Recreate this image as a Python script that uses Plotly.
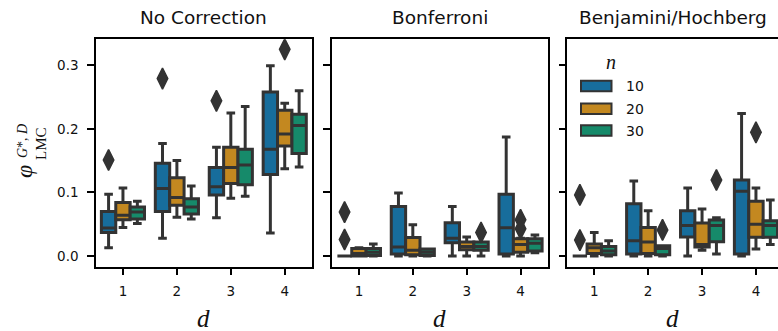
import plotly.graph_objects as go

# ---------------- data ----------------
panels = ["No Correction", "Bonferroni", "Benjamini/Hochberg"]
d_labels = ["1", "2", "3", "4"]
n_values = ["10", "20", "30"]
y_ticks = [0.0, 0.1, 0.2, 0.3]

# box statistics [panel][n] -> list over d
nc_lower = {"10": [0.013, 0.028, 0.060, 0.036], "20": [0.045, 0.061, 0.091, 0.137], "30": [0.051, 0.058, 0.094, 0.140]}
nc_q1 = {"10": [0.037, 0.070, 0.096, 0.128], "20": [0.057, 0.080, 0.114, 0.173], "30": [0.058, 0.066, 0.112, 0.161]}
nc_med = {"10": [0.044, 0.106, 0.109, 0.168], "20": [0.064, 0.092, 0.139, 0.192], "30": [0.069, 0.077, 0.143, 0.205]}
nc_q3 = {"10": [0.070, 0.146, 0.139, 0.258], "20": [0.084, 0.123, 0.171, 0.229], "30": [0.077, 0.090, 0.168, 0.223]}
nc_upper = {"10": [0.097, 0.177, 0.171, 0.299], "20": [0.107, 0.150, 0.225, 0.240], "30": [0.086, 0.110, 0.235, 0.260]}

bf_lower = {"10": [0.0, 0.0, 0.0, 0.0], "20": [0.0, 0.0, 0.0, 0.0], "30": [0.0, 0.0, 0.0, 0.005]}
bf_q1 = {"10": [0.0, 0.003, 0.021, 0.003], "20": [0.0, 0.002, 0.010, 0.006], "30": [0.001, 0.001, 0.009, 0.008]}
bf_med = {"10": [0.0, 0.014, 0.028, 0.0445], "20": [0.004, 0.009, 0.015, 0.018], "30": [0.006, 0.006, 0.015, 0.020]}
bf_q3 = {"10": [0.0, 0.078, 0.0524, 0.097], "20": [0.012, 0.029, 0.022, 0.027], "30": [0.012, 0.011, 0.022, 0.027]}
bf_upper = {"10": [0.0, 0.099, 0.078, 0.187], "20": [0.013, 0.049, 0.030, 0.028], "30": [0.019, 0.011, 0.022, 0.033]}

bh_lower = {"10": [0.0, 0.0, 0.0, 0.0], "20": [0.0, 0.0, 0.009, 0.011], "30": [0.0, 0.0, 0.003, 0.018]}
bh_q1 = {"10": [0.0, 0.003, 0.030, 0.003], "20": [0.004, 0.004, 0.014, 0.0294], "30": [0.002, 0.002, 0.0225, 0.0294]}
bh_med = {"10": [0.0, 0.024, 0.048, 0.102], "20": [0.013, 0.022, 0.018, 0.050], "30": [0.008, 0.012, 0.048, 0.048]}
bh_q3 = {"10": [0.0, 0.082, 0.0713, 0.1195], "20": [0.019, 0.045, 0.052, 0.086], "30": [0.015, 0.016, 0.0565, 0.0555]}
bh_upper = {"10": [0.0, 0.118, 0.107, 0.224], "20": [0.037, 0.071, 0.074, 0.107], "30": [0.024, 0.016, 0.060, 0.088]}

stats = [
    (nc_lower, nc_q1, nc_med, nc_q3, nc_upper),
    (bf_lower, bf_q1, bf_med, bf_q3, bf_upper),
    (bh_lower, bh_q1, bh_med, bh_q3, bh_upper),
]

# outliers: (panel index, d index, n, value)
outliers = [
    (0, 0, "10", 0.151), (0, 1, "10", 0.279), (0, 2, "10", 0.244), (0, 3, "20", 0.325),
    (1, 0, "10", 0.069), (1, 0, "10", 0.026), (1, 2, "30", 0.037), (1, 3, "20", 0.057), (1, 3, "20", 0.043),
    (2, 0, "10", 0.096), (2, 0, "10", 0.025), (2, 1, "30", 0.041), (2, 2, "30", 0.1195), (2, 3, "20", 0.1945),
]

# ---------------- style ----------------
colors = {"10": "#176d9c", "20": "#c38820", "30": "#168a6a"}
edge = "#333333"
W, H = 778, 331
font_fam = "DejaVu Sans"
group_width = 0.8
box_w = group_width / len(n_values)

x_domains = [[96 / W, 311.7 / W], [332 / W, 547.5 / W], [567.3 / W, 1.0]]
y_domain = [1 - 266.7 / H, 1 - 39.3 / H]
x_ranges = [[-0.5, 3.5], [-0.5, 3.5], [-0.5, 3.409]]
y_range = [-0.0168, 0.3407]

fig = go.Figure()

def offset(j):
    return (j - (len(n_values) - 1) / 2) * box_w

for p in range(3):
    lo, q1, md, q3, up = stats[p]
    xa = "x" if p == 0 else f"x{p + 1}"
    ya = "y" if p == 0 else f"y{p + 1}"
    for j, n in enumerate(n_values):
        xs = [i + offset(j) for i in range(len(d_labels))]
        fig.add_trace(go.Box(
            x=xs, q1=q1[n], median=md[n], q3=q3[n],
            lowerfence=lo[n], upperfence=up[n],
            width=box_w, whiskerwidth=0.6,
            fillcolor=colors[n], line=dict(color=edge, width=3),
            boxpoints=False, showlegend=False, hoverinfo="skip",
            xaxis=xa, yaxis=ya,
        ))
    ox = [di + offset(n_values.index(n)) for (pp, di, n, v) in outliers if pp == p]
    oy = [v for (pp, di, n, v) in outliers if pp == p]
    fig.add_trace(go.Scatter(
        x=ox, y=oy, mode="markers",
        marker=dict(symbol="diamond-tall", size=15, color=edge, line=dict(width=1.5, color=edge)),
        showlegend=False, hoverinfo="skip", xaxis=xa, yaxis=ya,
    ))

layout = dict(
    width=W, height=H, margin=dict(l=0, r=0, t=0, b=0),
    paper_bgcolor="white", plot_bgcolor="white",
    font=dict(family=font_fam, size=13.5, color="#111111"),
    boxmode="overlay", showlegend=False,
)
for p in range(3):
    xk = "xaxis" if p == 0 else f"xaxis{p + 1}"
    yk = "yaxis" if p == 0 else f"yaxis{p + 1}"
    layout[xk] = dict(
        domain=x_domains[p], range=x_ranges[p], anchor="y" if p == 0 else f"y{p + 1}",
        tickmode="array", tickvals=list(range(len(d_labels))), ticktext=d_labels,
        ticks="outside", ticklen=7, tickwidth=1.5, tickcolor="black",
        showline=True, linecolor="black", linewidth=1.5, mirror=True,
        showgrid=False, zeroline=False, fixedrange=True,
        tickfont=dict(size=13.5, color="#111111"), ticklabelstandoff=4,
    )
    layout[yk] = dict(
        domain=y_domain, range=y_range, anchor="x" if p == 0 else f"x{p + 1}",
        tickmode="array", tickvals=y_ticks, ticktext=[f"{t:.1f}" for t in y_ticks],
        showticklabels=(p == 0),
        ticks="outside", ticklen=7, tickwidth=1.5, tickcolor="black",
        showline=True, linecolor="black", linewidth=1.5, mirror=(p < 2),
        showgrid=False, zeroline=False, fixedrange=True,
        tickfont=dict(size=13.5, color="#111111"), ticklabelstandoff=6,
    )
fig.update_layout(**layout)

annotations = []
title_x = [203.8, 439.8, 672.5]
for p, t in enumerate(panels):
    annotations.append(dict(text=t, x=title_x[p] / W, y=1 - 17 / H, xref="paper", yref="paper",
                            xanchor="center", yanchor="middle", showarrow=False,
                            font=dict(size=18.5, family=font_fam, color="#111111")))
    annotations.append(dict(text="<i>d</i>", x=title_x[p] / W, y=1 - 318 / H, xref="paper", yref="paper",
                            xanchor="center", yanchor="middle", showarrow=False,
                            font=dict(size=25, family="Liberation Serif", color="#111111")))
# y label (phi with stacked super/subscripts)
annotations.append(dict(text="<i>φ</i>", x=24 / W, y=1 - 172 / H, xref="paper", yref="paper",
                        xanchor="center", yanchor="middle", showarrow=False, textangle=-90,
                        font=dict(size=24, family="Liberation Serif", color="#111111")))
annotations.append(dict(text="LMC", x=41 / W, y=1 - 144 / H, xref="paper", yref="paper",
                        xanchor="center", yanchor="middle", showarrow=False, textangle=-90,
                        font=dict(size=15, family="Liberation Serif", color="#111111")))
annotations.append(dict(text="<i>G</i>*, <i>D</i>", x=22 / W, y=1 - 141 / H, xref="paper", yref="paper",
                        xanchor="center", yanchor="middle", showarrow=False, textangle=-90,
                        font=dict(size=14, family="Liberation Serif", color="#111111")))

# legend (manual)
shapes = []
leg_y = [86, 108.7, 130.5]
annotations.append(dict(text="<i>n</i>", x=611 / W, y=1 - 62 / H, xref="paper", yref="paper",
                        xanchor="center", yanchor="middle", showarrow=False,
                        font=dict(size=20, family="Liberation Serif", color="#111111")))
for j, n in enumerate(n_values):
    yc = leg_y[j]
    shapes.append(dict(type="rect", xref="paper", yref="paper",
                       x0=581 / W, x1=611.5 / W, y0=1 - (yc - 5.3) / H, y1=1 - (yc + 5.3) / H,
                       fillcolor=colors[n], line=dict(color=edge, width=2)))
    annotations.append(dict(text=n, x=624 / W, y=1 - yc / H, xref="paper", yref="paper",
                            xanchor="left", yanchor="middle", showarrow=False,
                            font=dict(size=14, family=font_fam, color="#111111")))

fig.update_layout(annotations=annotations, shapes=shapes)
fig.write_html("out.html")
